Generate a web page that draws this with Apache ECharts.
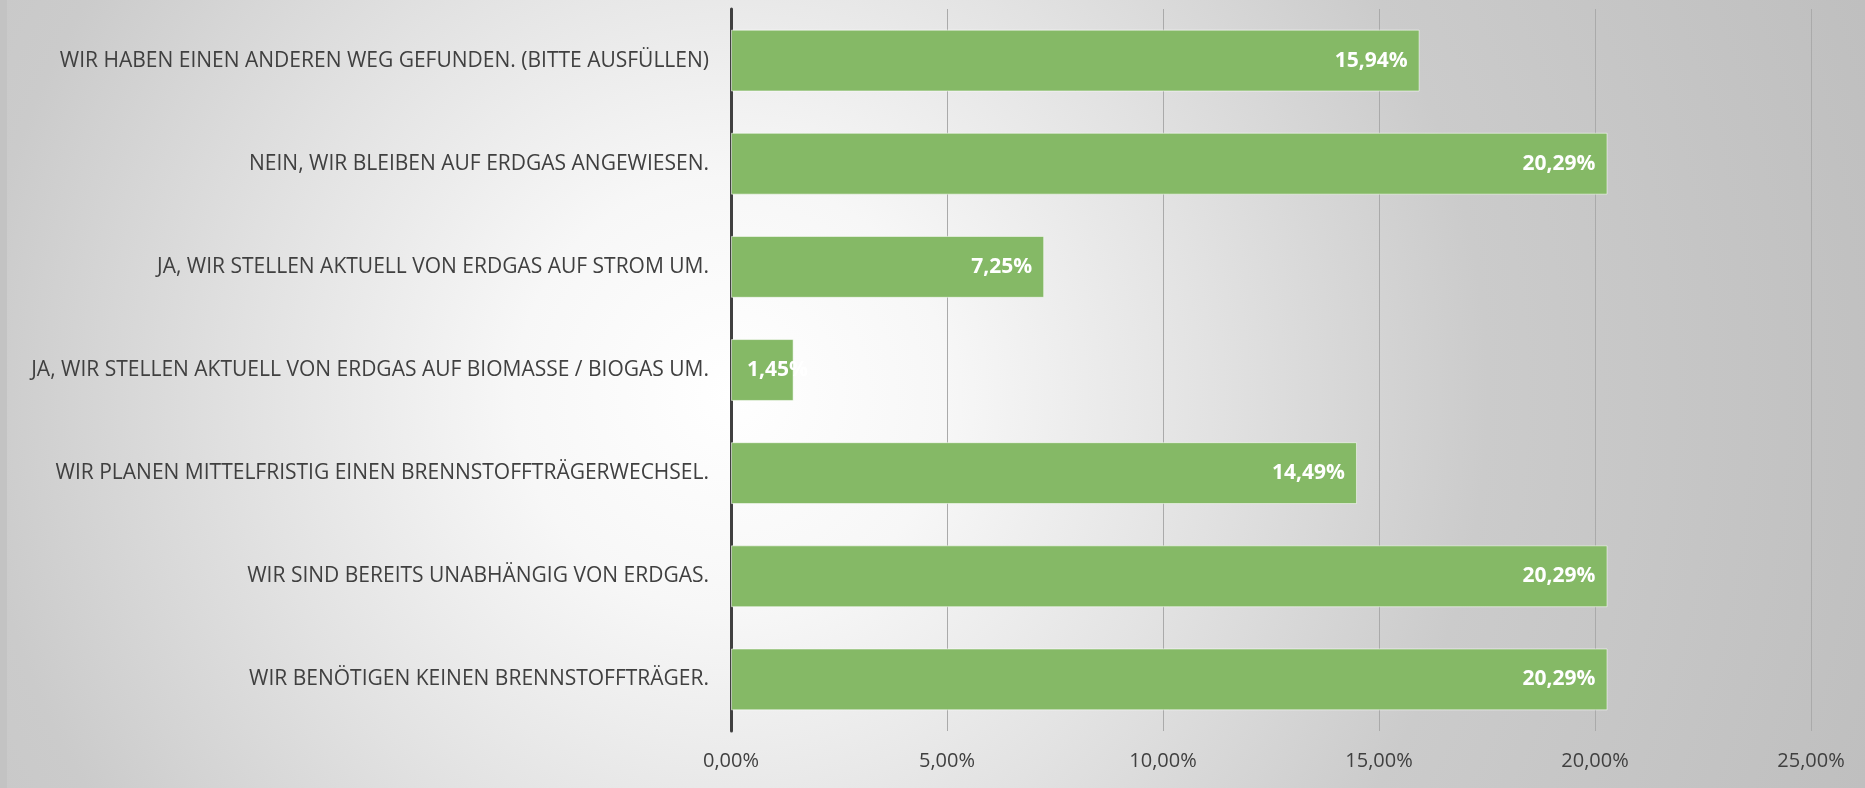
<!DOCTYPE html>
<html>
<head>
<meta charset="utf-8">
<script src="https://cdn.jsdelivr.net/npm/echarts@6/dist/echarts.min.js"></script>
<style>
  html, body { margin: 0; padding: 0; }
  .Echart {
    width: 1858px;
    height: 788px;
    border-left: 7px solid #c3c3c3;
    background: radial-gradient(circle farthest-corner at 39% 50%, #ffffff 0%, #f7f7f7 18%, #e2e2e2 40%, #cbcbcb 63%, #bfbfbf 100%);
  }
</style>
</head>
<body>
<div class="Echart" id="echart"></div>
<script>
// categories top to bottom as shown
const categories = [
  'WIR HABEN EINEN ANDEREN WEG GEFUNDEN. (BITTE AUSFÜLLEN)',
  'NEIN, WIR BLEIBEN AUF ERDGAS ANGEWIESEN.',
  'JA, WIR STELLEN AKTUELL VON ERDGAS AUF STROM UM.',
  'JA, WIR STELLEN AKTUELL VON ERDGAS AUF BIOMASSE / BIOGAS UM.',
  'WIR PLANEN MITTELFRISTIG EINEN BRENNSTOFFTRÄGERWECHSEL.',
  'WIR SIND BEREITS UNABHÄNGIG VON ERDGAS.',
  'WIR BENÖTIGEN KEINEN BRENNSTOFFTRÄGER.'
]
const values = [15.94, 20.29, 7.25, 1.45, 14.49, 20.29, 20.29]
const xTicks = [0, 5, 10, 15, 20, 25]

const fmt = v => v.toFixed(2).replace('.', ',') + '%'

const myChart = echarts.init(document.getElementById('echart'))
myChart.setOption({
  backgroundColor: 'transparent',
  animation: false,
  grid: {
    left: 724,
    right: 54,
    top: 9,
    bottom: 57
  },
  xAxis: {
    type: 'value',
    min: xTicks[0],
    max: xTicks[xTicks.length - 1],
    interval: 5,
    axisLine: { show: false },
    axisTick: { show: false },
    splitLine: { show: true, lineStyle: { color: '#aaaaaa', width: 1 } },
    axisLabel: {
      formatter: v => fmt(v),
      fontFamily: 'Open Sans',
      fontSize: 20,
      color: '#404040',
      margin: 20
    }
  },
  yAxis: {
    type: 'category',
    data: categories,
    inverse: true,
    axisLine: { show: true, lineStyle: { color: '#404040', width: 3 } },
    axisTick: { show: false },
    axisLabel: {
      fontFamily: 'Open Sans',
      fontSize: 21,
      color: '#404040',
      margin: 22
    }
  },
  series: [
    {
      type: 'bar',
      data: values.map(v => ({
        value: v,
        label: v < 3 ? { position: 'insideLeft', distance: 16 } : {}
      })),
      barCategoryGap: '40%',
      itemStyle: {
        color: '#85b966',
        borderColor: 'rgba(255,255,255,0.55)',
        borderWidth: 1
      },
      label: {
        show: true,
        position: 'insideRight',
        distance: 12,
        formatter: p => fmt(p.value),
        fontFamily: 'Open Sans',
        fontWeight: 'bold',
        fontSize: 21,
        color: '#ffffff'
      }
    }
  ]
})
</script>
</body>
</html>
